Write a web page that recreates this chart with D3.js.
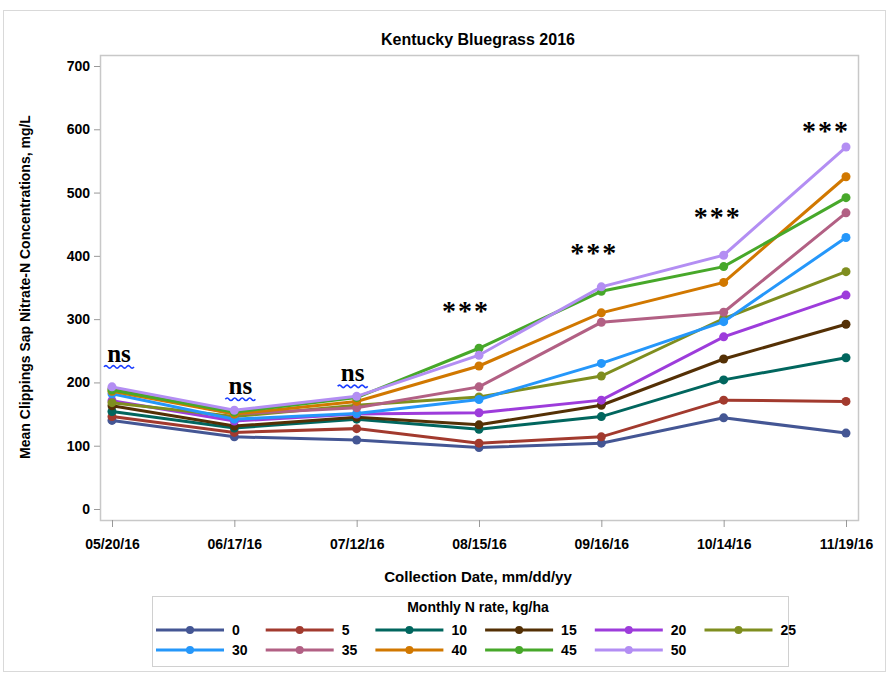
<!DOCTYPE html>
<html lang="en">
<head>
<meta charset="utf-8">
<title>Kentucky Bluegrass 2016</title>
<script src="https://d3js.org/d3.v7.min.js"></script>
<style>
  body { margin: 0; background: #fff; }
  text { font-family: "Liberation Sans Narrow", "Arial Narrow", "Liberation Sans", sans-serif; font-weight: bold; fill: #000; }
  .serif { font-family: "Liberation Serif", "DejaVu Serif", serif; }
</style>
</head>
<body>
<div id="chart"></div>
<script>
// collection dates (x categories)
var dates = ["05/20/16", "06/17/16", "07/12/16", "08/15/16", "09/16/16", "10/14/16", "11/19/16"];
// monthly N rates, kg/ha
var rates = [0, 5, 10, 15, 20, 25, 30, 35, 40, 45, 50];
// mean nitrate-N per rate, one value per date
var n0  = [140, 114, 109, 97, 104, 144, 120];
var n5  = [146, 121, 127, 104, 114, 172, 170];
var n10 = [154, 128, 142, 126, 146, 204, 239];
var n15 = [163, 131, 145, 133, 164, 237, 292];
var n20 = [171, 139, 150, 152, 172, 272, 338];
var n25 = [168, 146, 164, 177, 210, 301, 375];
var n30 = [182, 142, 151, 173, 230, 296, 429];
var n35 = [190, 150, 160, 193, 295, 311, 468];
var n40 = [186, 150, 170, 226, 310, 358, 525];
var n45 = [188, 153, 176, 254, 344, 383, 492];
var n50 = [193, 156, 178, 243, 351, 401, 572];
// significance labels per date
var signif = ["ns", "ns", "ns", "***", "***", "***", "***"];
var yTicks = [0, 100, 200, 300, 400, 500, 600, 700];

var series = [n0, n5, n10, n15, n20, n25, n30, n35, n40, n45, n50];
var colors = ["#445694", "#A23A2E", "#01665E", "#543005", "#9D3CDB", "#7F8E1F",
              "#2597FA", "#B26084", "#D17800", "#47A82A", "#B38EF3"];

var W = 890, H = 673;
var frame = { left: 100, right: 858, top: 55, bottom: 520 };

var svg = d3.select("#chart").append("svg")
    .attr("width", W).attr("height", H);

// outer border
svg.append("rect")
    .attr("x", 3.5).attr("y", 10.5).attr("width", 882).attr("height", 661)
    .attr("fill", "none").attr("stroke", "#d9d9d9");

svg.append("text")
    .attr("x", 478).attr("y", 45)
    .attr("text-anchor", "middle").attr("font-size", "16px")
    .text("Kentucky Bluegrass 2016");

// scales
var x = d3.scalePoint().domain(dates).range([112, 846]);
var y = d3.scaleLinear().domain([0, 700]).range([509, 66]);

// plot frame
svg.append("rect")
    .attr("x", frame.left + 0.5).attr("y", frame.top + 0.5)
    .attr("width", frame.right - frame.left).attr("height", frame.bottom - frame.top)
    .attr("fill", "none").attr("stroke", "#c8c8c8").attr("stroke-width", 1.5);

// axes
var yAxis = svg.append("g")
    .attr("transform", `translate(${frame.left},0)`)
    .call(d3.axisLeft(y).tickValues(yTicks).tickSize(6).tickPadding(4));
var xAxis = svg.append("g")
    .attr("transform", `translate(0,${frame.bottom})`)
    .call(d3.axisBottom(x).tickSize(7).tickPadding(12));
[yAxis, xAxis].forEach(function(a) {
    a.select(".domain").remove();
    a.selectAll(".tick line").attr("stroke", "#999");
    a.selectAll(".tick text").attr("font-size", "14px")
        .style("font-family", "'Liberation Sans Narrow', 'Arial Narrow', sans-serif")
        .style("font-weight", "bold");
});

svg.append("text")
    .attr("x", 478).attr("y", 582)
    .attr("text-anchor", "middle").attr("font-size", "15px")
    .text("Collection Date, mm/dd/yy");

svg.append("text")
    .attr("transform", "translate(30,287) rotate(-90)")
    .attr("text-anchor", "middle").attr("font-size", "14px")
    .text("Mean Clippings Sap Nitrate-N Concentrations, mg/L");

// lines + markers
var line = d3.line().x((d, i) => x(dates[i])).y(d => y(d));
var groups = svg.selectAll("g.series")
    .data(series)
    .join("g")
    .attr("class", "series");
groups.append("path")
    .attr("d", d => line(d))
    .attr("fill", "none")
    .attr("stroke", (d, i) => colors[i])
    .attr("stroke-width", 3);
groups.each(function(d, k) {
    d3.select(this).selectAll("circle")
        .data(d)
        .join("circle")
        .attr("cx", (v, i) => x(dates[i]))
        .attr("cy", v => y(v))
        .attr("r", 4.5)
        .attr("fill", colors[k]);
});

// significance annotations, placed above the highest series at each date
var maxVals = dates.map((dt, i) => d3.max(series, s => s[i]));
var wave = function(cx, cy, w) {
    var p = d3.path(), x0 = cx - w / 2, step = w / 8;
    p.moveTo(x0, cy);
    for (var i = 0; i < 8; i++) {
        p.quadraticCurveTo(x0 + step * (i + 0.5), cy + (i % 2 ? 2.5 : -2.5), x0 + step * (i + 1), cy);
    }
    return p.toString();
};
var annDx = [7, 6, -4, -13, -7, -6, -20];
var nsDy = [25, 16, 15];
var starY = [0, 0, 0, 320, 262, 226, 140];
signif.forEach(function(s, i) {
    var cx = x(dates[i]) + annDx[i];
    if (s === "ns") {
        var by = y(maxVals[i]) - nsDy[i];
        svg.append("text").attr("class", "serif")
            .attr("x", cx).attr("y", by)
            .attr("text-anchor", "middle").attr("font-size", "25px")
            .text(s);
        svg.append("path")
            .attr("d", wave(cx, by + 5, 30))
            .attr("fill", "none").attr("stroke", "#1a3cff").attr("stroke-width", 1.6);
    } else {
        svg.append("text").attr("class", "serif")
            .attr("x", cx).attr("y", starY[i])
            .attr("text-anchor", "middle").attr("font-size", "28px")
            .attr("letter-spacing", "2px")
            .text(s);
    }
});

// legend
var lg = svg.append("g");
lg.append("rect")
    .attr("x", 152.5).attr("y", 596.5).attr("width", 636).attr("height", 70)
    .attr("fill", "none").attr("stroke", "#d0d0d0");
lg.append("text")
    .attr("x", 478).attr("y", 612)
    .attr("text-anchor", "middle").attr("font-size", "14px")
    .text("Monthly N rate, kg/ha");
var items = lg.selectAll("g.item")
    .data(rates)
    .join("g")
    .attr("class", "item")
    .attr("transform", (d, i) => `translate(${156 + (i % 6) * 109.7},${630 + Math.floor(i / 6) * 20})`);
items.append("line")
    .attr("x1", 0).attr("x2", 68)
    .attr("stroke", (d, i) => colors[i]).attr("stroke-width", 3);
items.append("circle")
    .attr("cx", 34).attr("r", 4)
    .attr("fill", (d, i) => colors[i]);
items.append("text")
    .attr("x", 76).attr("y", 5)
    .attr("font-size", "14px")
    .text(d => d);
</script>
</body>
</html>
